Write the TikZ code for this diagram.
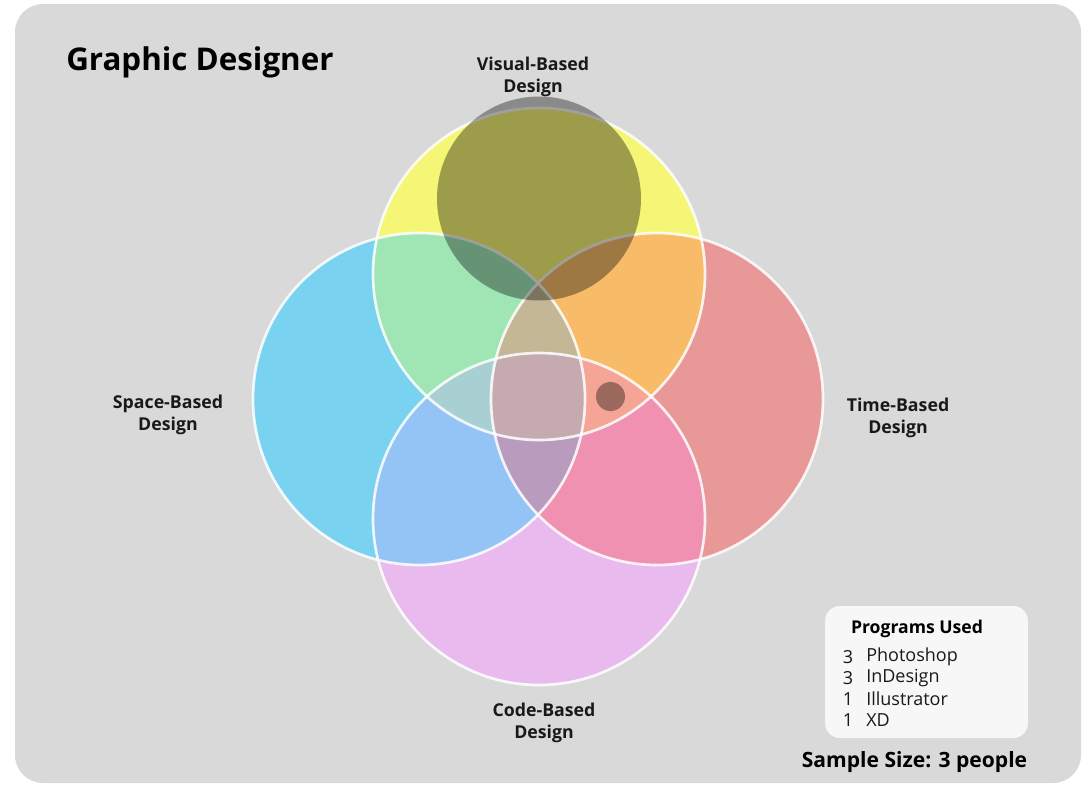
\documentclass[tikz,border=0pt]{standalone}
\usepackage{fontspec}
\setmainfont{Open Sans}
\definecolor{bgc}{RGB}{217,217,217}
\definecolor{cY}{RGB}{245,245,118}
\definecolor{cS}{RGB}{120,210,240}
\definecolor{cT}{RGB}{233,152,152}
\definecolor{cC}{RGB}{232,186,238}
\definecolor{cYS}{RGB}{160,230,180}
\definecolor{cYT}{RGB}{248,188,105}
\definecolor{cSC}{RGB}{148,196,245}
\definecolor{cTC}{RGB}{240,145,178}
\definecolor{cYST}{RGB}{195,183,150}
\definecolor{cYSC}{RGB}{168,208,210}
\definecolor{cYTC}{RGB}{245,165,150}
\definecolor{cSTC}{RGB}{185,155,190}
\definecolor{cAll}{RGB}{197,170,175}
\definecolor{boxc}{RGB}{247,247,247}
\newcommand{\R}{124.5pt}
\newcommand{\twofill}[3]{\begin{scope}\clip (#1) circle[radius=\R];\fill[#3] (#2) circle[radius=\R];\end{scope}}
\newcommand{\threefill}[4]{\begin{scope}\clip (#1) circle[radius=\R];\clip (#2) circle[radius=\R];\fill[#4] (#3) circle[radius=\R];\end{scope}}
\tikzset{
  ring/.style={draw=white, draw opacity=0.85, line width=2pt},
  shade/.style={fill=black, fill opacity=0.36},
  lab/.style={font=\fontsize{13.3}{16.5}\selectfont\bfseries, align=center, text=black!90, inner sep=0pt},
  item/.style={font=\fontsize{13.5}{15}\selectfont, inner sep=0pt, text=black!90}
}
\begin{document}
\begin{tikzpicture}[x=0.75pt,y=-0.75pt]
\useasboundingbox (0,0) rectangle (1089,785);
\fill[white] (0,0) rectangle (1089,785);
\fill[bgc, rounded corners=21pt] (15,4) rectangle (1081,783);
\coordinate (Y) at (539,274);
\coordinate (S) at (419,399);
\coordinate (T) at (657,399);
\coordinate (C) at (539,519);
\coordinate (G) at (539,198.5);
\coordinate (D) at (610.5,396.5);
% single circles
\fill[cY] (Y) circle[radius=\R];
\fill[cS] (S) circle[radius=\R];
\fill[cT] (T) circle[radius=\R];
\fill[cC] (C) circle[radius=\R];
% pairs
\twofill{Y}{S}{cYS}
\twofill{Y}{T}{cYT}
\twofill{S}{C}{cSC}
\twofill{T}{C}{cTC}
% triples
\threefill{Y}{S}{T}{cYST}
\threefill{Y}{S}{C}{cYSC}
\threefill{Y}{T}{C}{cYTC}
\threefill{S}{T}{C}{cSTC}
% all four
\begin{scope}
\clip (Y) circle[radius=\R];
\clip (S) circle[radius=\R];
\clip (T) circle[radius=\R];
\fill[cAll] (C) circle[radius=\R];
\end{scope}
% rings
\draw[ring] (Y) circle[radius=\R];
\draw[ring] (S) circle[radius=\R];
\draw[ring] (T) circle[radius=\R];
\draw[ring] (C) circle[radius=\R];
% dark circles
\fill[shade] (G) circle[radius=76.5pt];
\fill[shade] (D) circle[radius=10.9pt];
% labels
\node[anchor=west, font=\fontsize{23.5}{28}\selectfont\bfseries, inner sep=0pt] (title) at (66,62) {Graphic Designer};
\node[lab] (vis) at (533,77) {Visual-Based\\Design};
\node[lab] (spa) at (168,415) {Space-Based\\Design};
\node[lab] (tim) at (898,418) {Time-Based\\Design};
\node[lab] (cod) at (544,723) {Code-Based\\Design};
% programs box
\node[fill=boxc, rounded corners=11pt, minimum width=152pt, minimum height=99pt, inner sep=0pt] (box) at (926.5,672) {};
\node[font=\fontsize{13.2}{15}\selectfont\bfseries, inner sep=0pt] (ph) at (917,629) {Programs Used};
\node[item] (n1) at (848,657) {3};
\node[item, anchor=west] (p1) at (866,657) {Photoshop};
\node[item] (n2) at (848,678) {3};
\node[item, anchor=west] (p2) at (866,678) {InDesign};
\node[item] (n3) at (848,699) {1};
\node[item, anchor=west] (p3) at (866,699) {Illustrator};
\node[item] (n4) at (848,720) {1};
\node[item, anchor=west] (p4) at (866,720) {XD};
\node[font=\fontsize{15.8}{18}\selectfont\bfseries, inner sep=0pt] (ss) at (914.5,762) {Sample Size: 3 people};
\end{tikzpicture}
\end{document}
